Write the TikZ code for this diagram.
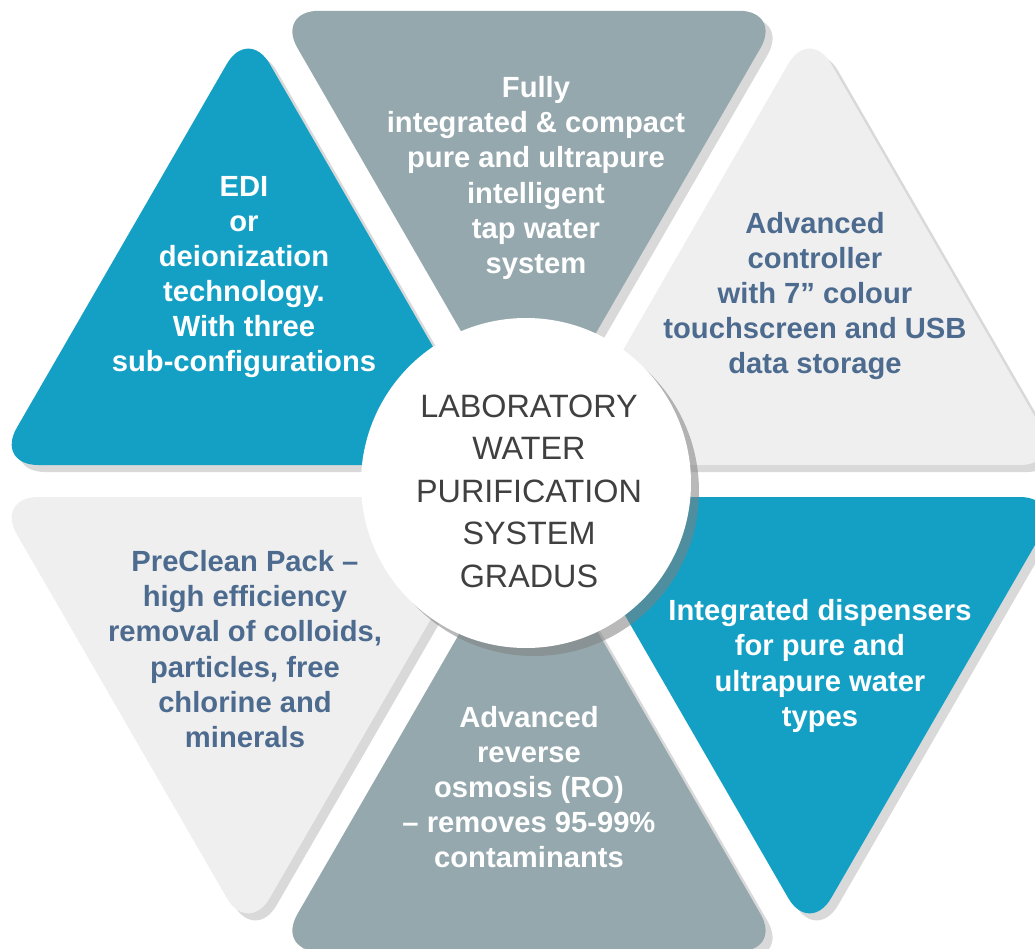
\documentclass[tikz,border=0pt]{standalone}
\usepackage{fontspec}
\setmainfont{Liberation Sans}
\usetikzlibrary{shadows}
\definecolor{tealblue}{HTML}{14A0C4}
\definecolor{slate}{HTML}{95A8AE}
\definecolor{pale}{HTML}{EFEFEF}
\definecolor{inkblue}{HTML}{4D6B8F}
\definecolor{inkgray}{HTML}{404040}

\begin{document}
\begin{tikzpicture}[
  tri/.style={rounded corners=0.43cm,drop shadow={shadow xshift=0.07cm,shadow yshift=-0.07cm,opacity=0.3}},
  lbl/.style={align=center,font=\fontsize{8.3}{10}\selectfont\bfseries},
  hubtext/.style={align=center,text=inkgray,font=\fontsize{9.2}{12.1}\selectfont}
]
\useasboundingbox (-5.29,-4.68) rectangle (5.06,4.81);

\fill[tri,pale,shift={(30:0.32)}] (0,0) -- (5.06,0) -- (2.53,4.382) -- cycle;
\fill[tri,slate,shift={(90:0.32)}] (0,0) -- (2.53,4.382) -- (-2.53,4.382) -- cycle;
\fill[tri,tealblue,shift={(150:0.32)}] (0,0) -- (-2.53,4.382) -- (-5.06,0) -- cycle;
\fill[tri,pale,shift={(210:0.32)}] (0,0) -- (-5.06,0) -- (-2.53,-4.382) -- cycle;
\fill[tri,slate,shift={(270:0.32)}] (0,0) -- (-2.53,-4.382) -- (2.53,-4.382) -- cycle;
\fill[tri,tealblue,shift={(330:0.32)}] (0,0) -- (2.53,-4.382) -- (5.06,0) -- cycle;

\node[lbl,white] (edi) at (-2.85,2.04) {EDI\\or\\deionization\\technology.\\With three\\sub-configurations};
\node[lbl,white] (compact) at (0.07,3.03) {Fully\\integrated \& compact\\pure and ultrapure\\intelligent\\tap water\\system};
\node[lbl,inkblue] (controller) at (2.86,1.85) {Advanced\\controller\\with 7” colour\\touchscreen and USB\\data storage};
\node[lbl,inkblue] (preclean) at (-2.84,-1.68) {PreClean Pack –\\high efficiency\\removal of colloids,\\particles, free\\chlorine and\\minerals};
\node[lbl,white] (osmosis) at (0.0,-3.06) {Advanced\\reverse\\osmosis (RO)\\– removes 95-99\%\\contaminants};
\node[lbl,white] (dispensers) at (2.91,-1.85) {Integrated dispensers\\for pure and\\ultrapure water\\types};

\fill[white,drop shadow={shadow xshift=0.08cm,shadow yshift=-0.08cm,opacity=0.55}] (-0.03,-0.02) circle (1.65);
\node[hubtext] (hub) at (0,-0.10) {LABORATORY\\WATER\\PURIFICATION\\SYSTEM\\GRADUS};
\end{tikzpicture}
\end{document}
